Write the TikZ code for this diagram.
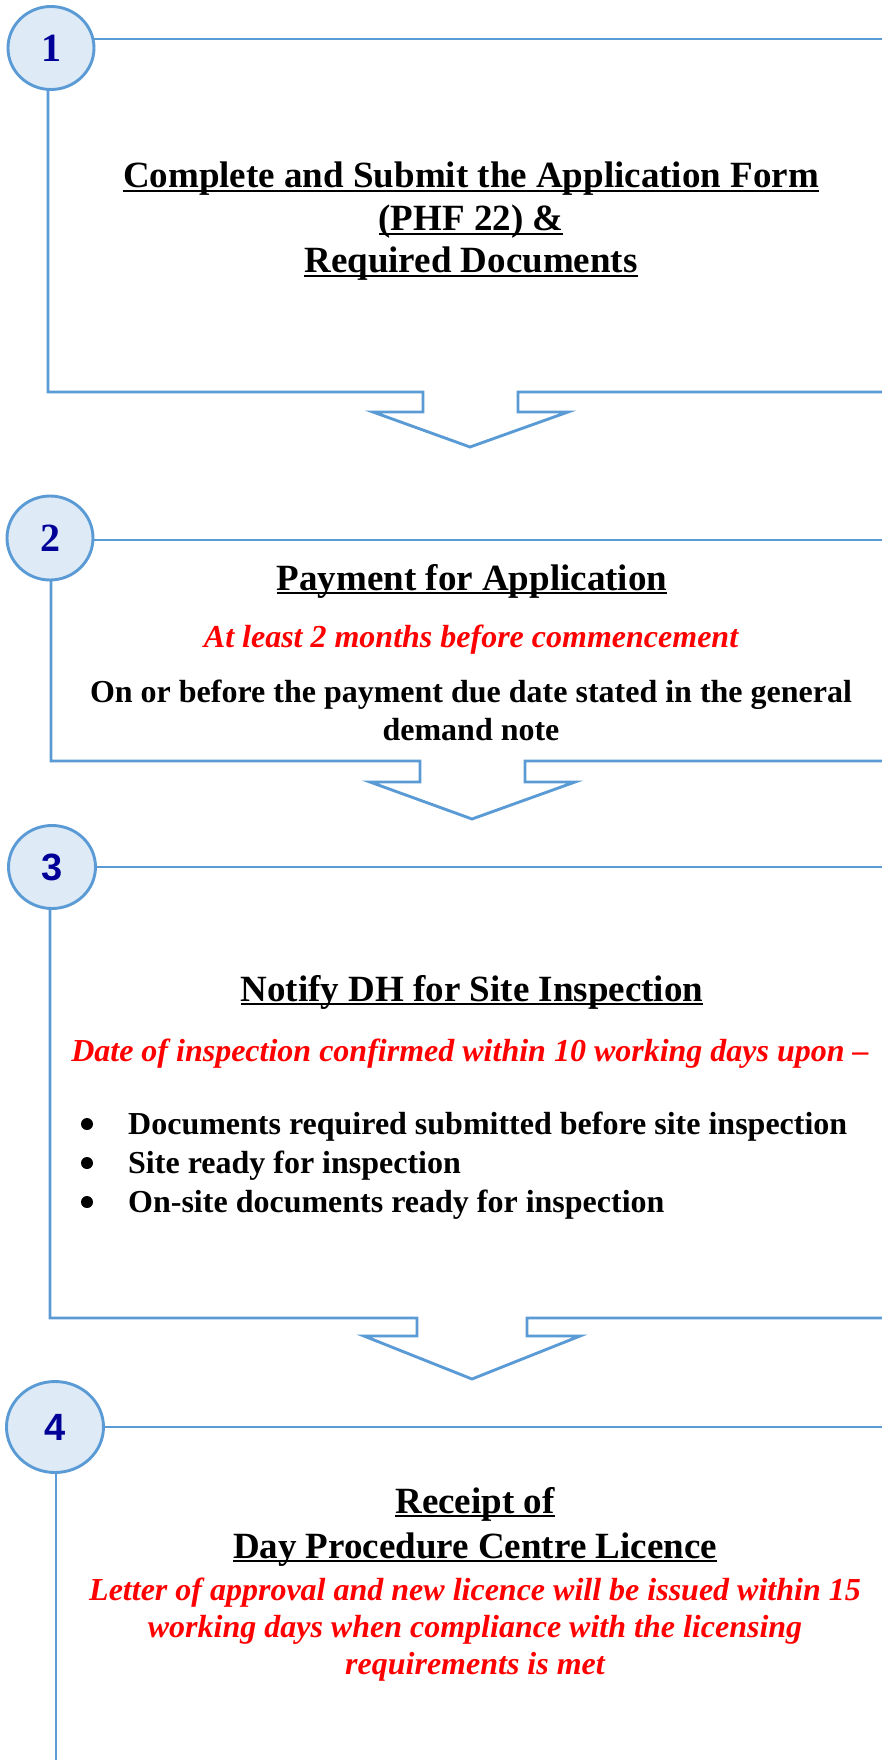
\documentclass[tikz,border=0pt]{standalone}
\usepackage{fontspec}
\setmainfont{Liberation Serif}
\newfontfamily\numsans{Liberation Sans}
\usetikzlibrary{shapes.geometric}

\definecolor{stepblue}{HTML}{5B9BD5}
\definecolor{stepfill}{HTML}{DEEAF6}
\definecolor{numblue}{HTML}{000099}
\definecolor{notered}{HTML}{FF0000}

% underline at a fixed distance below the baseline
\newsavebox\ulbox
\newcommand\titleul[1]{\sbox\ulbox{#1}\rlap{\rule[-0.12em]{\wd\ulbox}{0.06em}}\usebox\ulbox}

\tikzset{
  stepline/.style={draw=stepblue, line width=2.9pt, line join=miter},
  stepnum/.style={ellipse, draw=stepblue, fill=stepfill, line width=2.9pt,
    inner sep=0pt, text=numblue},
  serifnum/.style={stepnum, font=\fontsize{40}{40}\selectfont\bfseries},
  sansnum/.style={stepnum, font=\fontsize{38}{38}\selectfont\numsans\bfseries},
  titletext/.style={anchor=base, inner sep=0pt, font=\fontsize{37}{43}\selectfont\bfseries},
  bodytext/.style={anchor=base, inner sep=0pt, font=\fontsize{32}{37}\selectfont\bfseries},
  notetext/.style={anchor=base, inner sep=0pt, text=notered,
    font=\fontsize{32}{37}\selectfont\bfseries\itshape},
  bullettext/.style={bodytext, anchor=base west},
  bulletdot/.style={anchor=center, circle, fill=black, inner sep=0pt, minimum size=12pt},
}

\begin{document}
\begin{tikzpicture}[x=1pt, y=-1pt]
\useasboundingbox (0,0) rectangle (882,1760);

% ---------- step 1 ----------
\coordinate (t1) at (51,39);
\coordinate (l1) at (48,48);
\draw[stepline] (t1) -- (890,39);
\draw[stepline] (l1) -- (48,392) -- (423,392) -- (423,412) -- (373,412)
  -- (470,447) -- (568,412) -- (518,412) -- (518,392) -- (890,392);
\node[serifnum, minimum width=86pt, minimum height=83pt] (c1) at (51,48) {1};

\node[titletext] (s1a) at (471,188) {\titleul{Complete and Submit the Application Form}};
\node[titletext] (s1b) at (471,231) {\titleul{(PHF 22) \&}};
\node[titletext] (s1c) at (471,273) {\titleul{Required Documents}};

% ---------- step 2 ----------
\coordinate (t2) at (50,540);
\coordinate (l2) at (51,538);
\draw[stepline] (t2) -- (890,540);
\draw[stepline] (l2) -- (51,761) -- (420,761) -- (420,782) -- (370,782)
  -- (472,819) -- (575,782) -- (525,782) -- (525,761) -- (890,761);
\node[serifnum, minimum width=86pt, minimum height=84pt] (c2) at (50,538) {2};

\node[titletext] (s2a) at (472,590) {\titleul{Payment for Application}};
\node[notetext] (s2b) at (471,647) {At least 2 months before commencement};
\node[bodytext] (s2c) at (471,702) {On or before the payment due date stated in the general};
\node[bodytext] (s2d) at (471,740) {demand note};

% ---------- step 3 ----------
\coordinate (t3) at (52,867);
\coordinate (l3) at (50,867);
\draw[stepline] (t3) -- (890,867);
\draw[stepline] (l3) -- (50,1318) -- (417,1318) -- (417,1336) -- (364,1336)
  -- (472,1379) -- (580,1336) -- (527,1336) -- (527,1318) -- (890,1318);
\node[sansnum, minimum width=87pt, minimum height=83pt] (c3) at (52,867) {3};

\node[titletext] (s3a) at (472,1001) {\titleul{Notify DH for Site Inspection}};
\node[notetext] (s3b) at (470,1061) {Date of inspection confirmed within 10 working days upon –};
\node[bulletdot] (d3a) at (87,1124) {};
\node[bulletdot] (d3b) at (87,1163) {};
\node[bulletdot] (d3c) at (87,1202) {};
\node[bullettext] (s3c) at (128,1134) {Documents required submitted before site inspection};
\node[bullettext] (s3d) at (128,1173) {Site ready for inspection};
\node[bullettext] (s3e) at (128,1212) {On-site documents ready for inspection};

% ---------- step 4 ----------
\coordinate (t4) at (55,1427);
\coordinate (l4) at (56,1427);
\draw[stepline] (t4) -- (890,1427);
\draw[stepline] (l4) -- (56,1770);
\node[sansnum, minimum width=97pt, minimum height=91pt] (c4) at (55,1427) {4};

\node[titletext] (s4a) at (475,1513) {\titleul{Receipt of}};
\node[titletext] (s4b) at (475,1558) {\titleul{Day Procedure Centre Licence}};
\node[notetext] (s4c) at (475,1600) {Letter of approval and new licence will be issued within 15};
\node[notetext] (s4d) at (475,1637) {working days when compliance with the licensing};
\node[notetext] (s4e) at (475,1674) {requirements is met};
\end{tikzpicture}
\end{document}
